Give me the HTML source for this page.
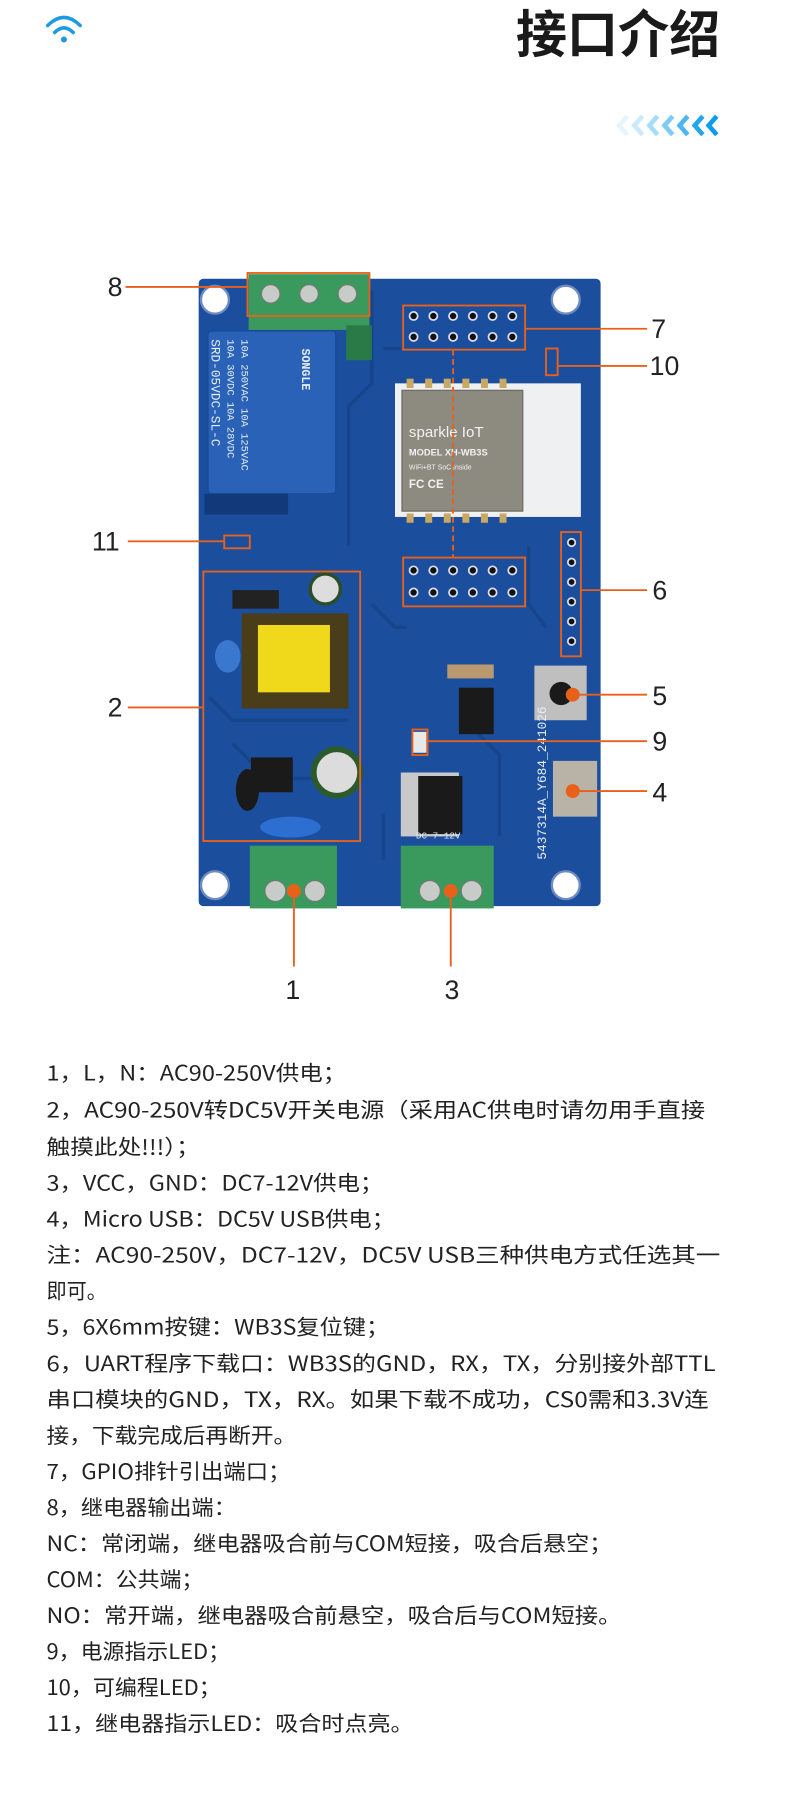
<!DOCTYPE html>
<html><head><meta charset="utf-8"><style>
html,body{margin:0;padding:0;background:#fff;}
svg{display:block;}
.t{font-family:"Noto Sans CJK SC","Liberation Sans",sans-serif;font-size:18px;fill:#222;}
.n{font-family:"Liberation Sans",sans-serif;font-size:23px;fill:#222;}
.ol{stroke:#e8611a;stroke-width:1.6;fill:none;}
.sk{font-family:"Liberation Mono",monospace;font-size:6px;fill:#dfe6f5;}
</style></head><body>
<svg width="790" height="1818" viewBox="0 0 680 1565" xmlns="http://www.w3.org/2000/svg">
<!-- wifi -->
<g fill="none" stroke="#1e9ae0" stroke-width="3" stroke-linecap="round">
<path d="M41 22 Q55 8 69 22"/><path d="M47 28 Q55 20 63 28"/></g>
<circle cx="55" cy="34" r="2.6" fill="#1e9ae0"/>
<text x="620" y="45" text-anchor="end" style="font-family:'Noto Sans CJK SC',sans-serif;font-size:44px;font-weight:bold;fill:#1a1a1a">接口介绍</text>
<g fill="none" stroke-width="4">
<path d="M540 100 L533 108 L540 116" stroke="#e6f5fd"/>
<path d="M553 100 L546 108 L553 116" stroke="#c9ebfc"/>
<path d="M566 100 L559 108 L566 116" stroke="#a6dcfa"/>
<path d="M579 100 L572 108 L579 116" stroke="#7dcaf6"/>
<path d="M592 100 L585 108 L592 116" stroke="#4cb6f3"/>
<path d="M605 100 L598 108 L605 116" stroke="#22a6f0"/>
<path d="M617 100 L610 108 L617 116" stroke="#0b9cef"/>
</g>

<rect x="171" y="240" width="346" height="540" rx="4" fill="#1b4f9e"/>
<g stroke="#17458c" stroke-width="3" fill="none">
<path d="M320 250 V330 L300 350 V470"/><path d="M330 300 H345"/><path d="M180 600 L200 620 H300"/>
<path d="M200 640 L230 670 H310"/><path d="M320 520 L340 540 H350"/><path d="M455 470 V520 L470 540"/>
<path d="M400 620 L430 650 V720"/><path d="M330 700 L330 740"/>
</g>
<g fill="#fff" stroke="#6e8cc2" stroke-width="2">
<circle cx="185" cy="258" r="12"/><circle cx="487" cy="258" r="12"/><circle cx="185" cy="762" r="12"/><circle cx="487" cy="762" r="12"/>
</g>
<rect x="214" y="236" width="104" height="48" fill="#3a9a5e"/>
<rect x="298" y="280" width="22" height="30" fill="#2a7a48"/>
<g fill="#c8ccc8" stroke="#6f7a70"><circle cx="233" cy="253" r="8"/><circle cx="266" cy="253" r="8"/><circle cx="299" cy="253" r="8"/></g>
<rect x="179" y="285" width="110" height="140" rx="3" fill="#2a62b8" stroke="#174a95"/>
<rect x="176" y="425" width="72" height="18" fill="#123a7a"/>
<g class="sk" style="font-size:9px;fill:#e8eef8">
<text transform="translate(208,292) rotate(90)">10A 250VAC 10A 125VAC</text>
<text transform="translate(196,292) rotate(90)">10A  30VDC 10A  28VDC</text>
<text transform="translate(182,292) rotate(90)" style="font-size:11px">SRD-05VDC-SL-C</text>
<text transform="translate(260,300) rotate(90)" style="font-size:10px;font-weight:bold">SONGLE</text>
</g>
<rect x="340" y="330" width="160" height="115" fill="#eef0f2"/>
<rect x="346" y="336" width="104" height="104" fill="#8d8a80" stroke="#6b685f"/>
<text x="352" y="376" style="font-family:'Liberation Sans',sans-serif;font-size:13px;fill:#f2f2f2">sparkle IoT</text>
<text x="352" y="392" style="font-family:'Liberation Sans',sans-serif;font-size:8px;font-weight:bold;fill:#f2f2f2">MODEL  XH-WB3S</text>
<text x="352" y="404" style="font-family:'Liberation Sans',sans-serif;font-size:6px;fill:#f2f2f2">WiFi+BT SoC Inside</text>
<text x="352" y="420" style="font-family:'Liberation Sans',sans-serif;font-size:10px;font-weight:bold;fill:#f2f2f2">FC CE</text>
<g fill="#c9a864"><rect x="350" y="326" width="6" height="8"/><rect x="366" y="326" width="6" height="8"/><rect x="382" y="326" width="6" height="8"/><rect x="398" y="326" width="6" height="8"/><rect x="414" y="326" width="6" height="8"/><rect x="430" y="326" width="6" height="8"/>
<rect x="350" y="442" width="6" height="8"/><rect x="366" y="442" width="6" height="8"/><rect x="382" y="442" width="6" height="8"/><rect x="398" y="442" width="6" height="8"/><rect x="414" y="442" width="6" height="8"/><rect x="430" y="442" width="6" height="8"/></g>
<g fill="#111" stroke="#dde" stroke-width="1.5">
<circle cx="356" cy="272" r="3.5"/><circle cx="373" cy="272" r="3.5"/><circle cx="390" cy="272" r="3.5"/><circle cx="407" cy="272" r="3.5"/><circle cx="424" cy="272" r="3.5"/><circle cx="441" cy="272" r="3.5"/>
<circle cx="356" cy="290" r="3.5"/><circle cx="373" cy="290" r="3.5"/><circle cx="390" cy="290" r="3.5"/><circle cx="407" cy="290" r="3.5"/><circle cx="424" cy="290" r="3.5"/><circle cx="441" cy="290" r="3.5"/>
<circle cx="356" cy="491" r="3.5"/><circle cx="373" cy="491" r="3.5"/><circle cx="390" cy="491" r="3.5"/><circle cx="407" cy="491" r="3.5"/><circle cx="424" cy="491" r="3.5"/><circle cx="441" cy="491" r="3.5"/>
<circle cx="356" cy="510" r="3.5"/><circle cx="373" cy="510" r="3.5"/><circle cx="390" cy="510" r="3.5"/><circle cx="407" cy="510" r="3.5"/><circle cx="424" cy="510" r="3.5"/><circle cx="441" cy="510" r="3.5"/>
<circle cx="492" cy="467" r="3.2"/><circle cx="492" cy="484" r="3.2"/><circle cx="492" cy="501" r="3.2"/><circle cx="492" cy="518" r="3.2"/><circle cx="492" cy="535" r="3.2"/><circle cx="492" cy="552" r="3.2"/>
</g>
<rect x="208" y="528" width="92" height="82" fill="#4a3d1a"/>
<rect x="222" y="538" width="62" height="58" fill="#f0d81a"/>
<rect x="200" y="508" width="40" height="16" fill="#222"/>
<circle cx="280" cy="507" r="13" fill="#ddd" stroke="#2a4d2a" stroke-width="3"/>
<ellipse cx="196" cy="565" rx="11" ry="14" fill="#3a78d0"/>
<rect x="216" y="652" width="36" height="30" fill="#1a1a1a"/>
<ellipse cx="213" cy="680" rx="10" ry="18" fill="#1a1a1a"/>
<ellipse cx="250" cy="712" rx="26" ry="9" fill="#2c6fd0"/>
<circle cx="290" cy="665" r="20" fill="#dcdcdc" stroke="#2b5a2b" stroke-width="5"/>
<rect x="395" y="592" width="30" height="40" fill="#1a1a1a"/>
<rect x="385" y="572" width="40" height="12" fill="#b89970"/>
<rect x="345" y="665" width="50" height="55" fill="#c9c9c9"/><rect x="360" y="668" width="38" height="50" fill="#1a1a1a"/>
<rect x="460" y="573" width="45" height="47" fill="#bfbfbf"/><circle cx="483" cy="597" r="10" fill="#1a1a1a"/>
<rect x="476" y="655" width="38" height="48" fill="#b9b2a6"/>
<rect x="355" y="630" width="12" height="18" fill="#e8e8e8"/>
<text transform="translate(470,740) rotate(-90)" style="font-family:'Liberation Mono',monospace;font-size:11px;fill:#e6ecf6">5437314A_Y684_241026</text>
<text x="358" y="722" class="sk" style="font-size:8px">DC 7-12V</text>
<rect x="215" y="728" width="75" height="54" fill="#3a9a5e"/>
<rect x="345" y="728" width="80" height="54" fill="#3a9a5e"/>
<g fill="#c8ccc8" stroke="#6f7a70"><circle cx="237" cy="767" r="9"/><circle cx="271" cy="767" r="9"/><circle cx="370" cy="767" r="9"/><circle cx="406" cy="767" r="9"/></g>

<g class="ol">
<rect x="213" y="235" width="105" height="37"/>
<rect x="347" y="263" width="105" height="38"/>
<rect x="347" y="480" width="105" height="42"/>
<rect x="483" y="458" width="17" height="107"/>
<rect x="470" y="300" width="10" height="23"/>
<rect x="193" y="461" width="22" height="11"/>
<rect x="175" y="492" width="135" height="232"/>
<rect x="355" y="628" width="13" height="22"/>
<path d="M108 247 H213"/><path d="M452 283 H557"/><path d="M480 315 H557"/><path d="M500 508 H557"/>
<path d="M493 598 H557"/><path d="M368 638 H557"/><path d="M493 681 H557"/>
<path d="M110 466 H193"/><path d="M110 609 H175"/>
<path d="M253 767 V832"/><path d="M388 767 V832"/>
<path d="M390 301 V480" stroke-dasharray="5,3"/>
</g>
<g fill="#e8611a"><circle cx="493" cy="598" r="6"/><circle cx="493" cy="681" r="6"/><circle cx="253" cy="767" r="6"/><circle cx="388" cy="767" r="6"/></g>
<g class="n">
<text x="99" y="255" text-anchor="middle">8</text>
<text x="567" y="291" text-anchor="middle">7</text>
<text x="572" y="323" text-anchor="middle">10</text>
<text x="568" y="516" text-anchor="middle">6</text>
<text x="568" y="607" text-anchor="middle">5</text>
<text x="568" y="646" text-anchor="middle">9</text>
<text x="568" y="690" text-anchor="middle">4</text>
<text x="91" y="474" text-anchor="middle">11</text>
<text x="99" y="617" text-anchor="middle">2</text>
<text x="252" y="860" text-anchor="middle">1</text>
<text x="389" y="860" text-anchor="middle">3</text>
</g>

<g class="t" lengthAdjust="spacingAndGlyphs">
<text x="40" y="930" textLength="258" lengthAdjust="spacingAndGlyphs">1，L，N：AC90-250V供电；</text>
<text x="40" y="962" textLength="567" lengthAdjust="spacingAndGlyphs">2，AC90-250V转DC5V开关电源（采用AC供电时请勿用手直接</text>
<text x="40" y="994" textLength="132" lengthAdjust="spacingAndGlyphs">触摸此处!!!）；</text>
<text x="40" y="1025" textLength="290" lengthAdjust="spacingAndGlyphs">3，VCC，GND：DC7-12V供电；</text>
<text x="40" y="1056" textLength="300" lengthAdjust="spacingAndGlyphs">4，Micro USB：DC5V USB供电；</text>
<text x="40" y="1087" textLength="580" lengthAdjust="spacingAndGlyphs">注：AC90-250V，DC7-12V，DC5V USB三种供电方式任选其一</text>
<text x="40" y="1118" textLength="52" lengthAdjust="spacingAndGlyphs">即可。</text>
<text x="40" y="1149" textLength="295" lengthAdjust="spacingAndGlyphs">5，6X6mm按键：WB3S复位键；</text>
<text x="40" y="1180" textLength="576" lengthAdjust="spacingAndGlyphs">6，UART程序下载口：WB3S的GND，RX，TX，分别接外部TTL</text>
<text x="40" y="1211" textLength="570" lengthAdjust="spacingAndGlyphs">串口模块的GND，TX，RX。如果下载不成功，CS0需和3.3V连</text>
<text x="40" y="1242" textLength="215" lengthAdjust="spacingAndGlyphs">接，下载完成后再断开。</text>
<text x="40" y="1273" textLength="210" lengthAdjust="spacingAndGlyphs">7，GPIO排针引出端口；</text>
<text x="40" y="1304" textLength="163" lengthAdjust="spacingAndGlyphs">8，继电器输出端：</text>
<text x="40" y="1335" textLength="487" lengthAdjust="spacingAndGlyphs">NC：常闭端，继电器吸合前与COM短接，吸合后悬空；</text>
<text x="40" y="1366" textLength="135" lengthAdjust="spacingAndGlyphs">COM：公共端；</text>
<text x="40" y="1397" textLength="495" lengthAdjust="spacingAndGlyphs">NO：常开端，继电器吸合前悬空，吸合后与COM短接。</text>
<text x="40" y="1428" textLength="158" lengthAdjust="spacingAndGlyphs">9，电源指示LED；</text>
<text x="40" y="1459" textLength="150" lengthAdjust="spacingAndGlyphs">10，可编程LED；</text>
<text x="40" y="1490" textLength="316" lengthAdjust="spacingAndGlyphs">11，继电器指示LED：吸合时点亮。</text>
</g>
</svg>
</body></html>
